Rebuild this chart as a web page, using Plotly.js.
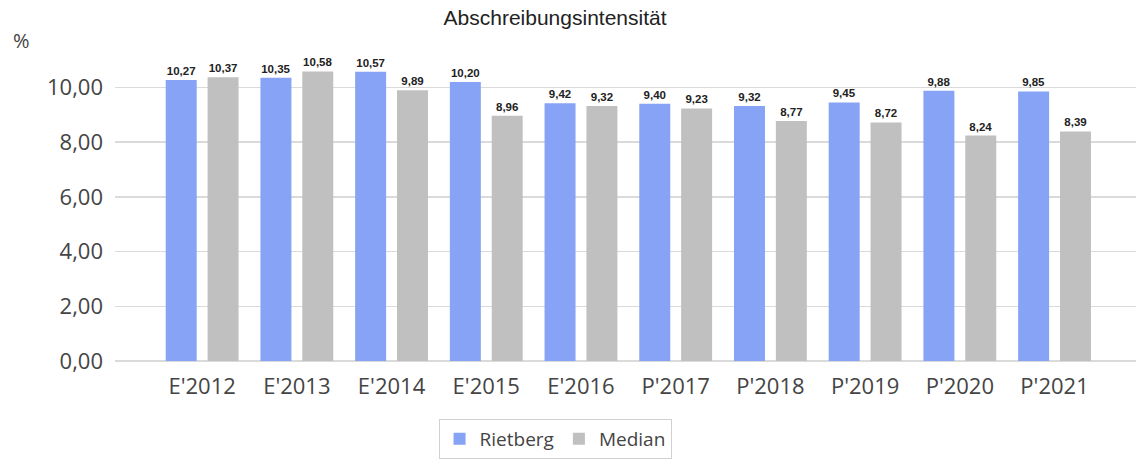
<!DOCTYPE html>
<html><head><meta charset="utf-8">
<script src="https://cdn.plot.ly/plotly-3.0.1.min.js"></script>
<style>html,body{margin:0;padding:0;background:#fff}#chart{width:1136px;height:459px}</style>
</head><body><div id="chart"></div>
<script>
const categories = ["E'2012","E'2013","E'2014","E'2015","E'2016","P'2017","P'2018","P'2019","P'2020","P'2021"];
const rietberg = [10.27,10.35,10.57,10.20,9.42,9.40,9.32,9.45,9.88,9.85];
const median = [10.37,10.58,9.89,8.96,9.32,9.23,8.77,8.72,8.24,8.39];
const seriesNames = ["Rietberg","Median"];
const yTicks = [0,2,4,6,8,10];

const labelFont = {family:"Liberation Sans, Arial", size:11.5, color:"#222"};
function trace(name, vals, color){
  return {type:"bar", name:name, x:categories, y:vals, marker:{color:color},
    texttemplate:"<b>%{y:.2f}</b>", textposition:"outside", textfont:labelFont,
    cliponaxis:false, hoverinfo:"skip"};
}
const data = [trace(seriesNames[0], rietberg, "#86a3f5"), trace(seriesNames[1], median, "#c0c0c0")];
const layout = {
  width:1136, height:459, separators:",.",
  margin:{l:115, r:0, t:60, b:94},
  paper_bgcolor:"#fff", plot_bgcolor:"#fff",
  bargap:0.116, bargroupgap:0.26,
  title:{text:"Abschreibungsintensität", xref:"container", yref:"container", x:0.4886, y:0.961, xanchor:"center", yanchor:"middle",
    font:{family:"Liberation Sans, Arial", size:21, color:"#222"}},
  xaxis:{type:"category", range:[-0.92, 9.86], showgrid:false, zeroline:false, showline:false, ticks:"", ticklabelstandoff:10,
    tickfont:{family:"Open Sans", size:22, color:"#444"}},
  yaxis:{range:[0,11], tickvals:yTicks, tickformat:".2f", showgrid:true, gridcolor:"#dadada", gridwidth:1.5,
    zeroline:true, zerolinecolor:"#dadada", zerolinewidth:1.5, showline:false, ticks:"", ticklabelstandoff:11,
    tickfont:{family:"Open Sans", size:22, color:"#444"}},
  showlegend:true,
  legend:{orientation:"h", x:0.431, xanchor:"center", y:-0.194, yanchor:"top", bordercolor:"#d0d0d0", borderwidth:1,
    font:{family:"Open Sans", size:19, color:"#444"}, itemclick:false, traceorder:"normal"},
  annotations:[{text:"%", xref:"paper", yref:"paper", x:-0.102, y:1.012, xanchor:"left", yanchor:"bottom", showarrow:false,
    font:{family:"Open Sans", size:20, color:"#444"}}]
};
Plotly.newPlot("chart", data, layout, {staticPlot:true, displayModeBar:false});
</script></body></html>
